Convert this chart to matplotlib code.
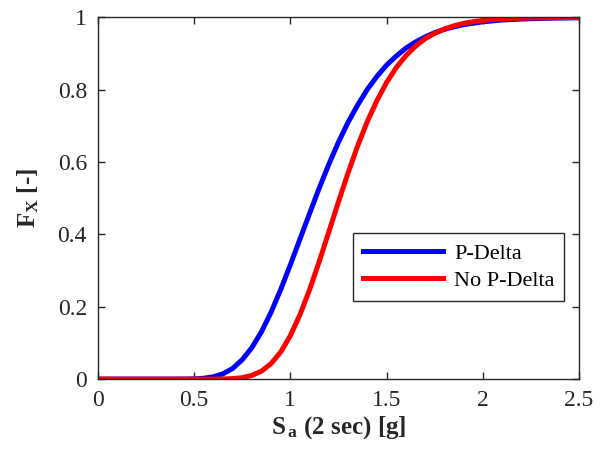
import matplotlib
matplotlib.use("Agg")
import matplotlib.pyplot as plt

plt.rcParams['font.family'] = ['Liberation Serif', 'DejaVu Serif']
plt.rcParams['mathtext.fontset'] = 'custom'
plt.rcParams['mathtext.rm'] = 'Liberation Serif'
plt.rcParams['mathtext.bf'] = 'Liberation Serif:bold'

# fragility curves: Sa (2 sec) vs probability of exceedance
sa = [0.0, 0.1, 0.2, 0.3, 0.4, 0.45, 0.5, 0.55, 0.6, 0.65, 0.7, 0.75, 0.8, 0.85,
      0.9, 0.95, 1.0, 1.05, 1.1, 1.15, 1.2, 1.25, 1.3, 1.35, 1.4, 1.45, 1.5,
      1.55, 1.6, 1.65, 1.7, 1.75, 1.8, 1.85, 1.9, 1.95, 2.0, 2.1, 2.2, 2.3,
      2.4, 2.5]
p_delta = [0.0, 0.0, 0.0, 0.0, 0.0, 0.0001, 0.0007, 0.0023, 0.0064, 0.0146,
           0.0294, 0.0537, 0.0869, 0.131, 0.185, 0.248, 0.316, 0.387, 0.458,
           0.528, 0.594, 0.655, 0.710, 0.758, 0.801, 0.837, 0.868, 0.893,
           0.915, 0.932, 0.946, 0.958, 0.967, 0.974, 0.980, 0.984, 0.988,
           0.993, 0.9956, 0.9974, 0.9985, 0.9991]
no_p_delta = [0.0, 0.0, 0.0, 0.0, 0.0, 0.0, 0.0, 0.0, 0.0001, 0.0003, 0.0013,
              0.0039, 0.0101, 0.022, 0.043, 0.075, 0.120, 0.178, 0.247, 0.325,
              0.407, 0.490, 0.570, 0.645, 0.712, 0.770, 0.820, 0.861, 0.894,
              0.920, 0.941, 0.956, 0.968, 0.977, 0.9836, 0.9883, 0.9917,
              0.9960, 0.9981, 0.9991, 0.9996, 0.9998]

fig = plt.figure(figsize=(6.03, 4.54), dpi=100)
ax = fig.add_axes([0.1625, 0.165, 0.7975, 0.7965])

ax.plot(sa, p_delta, color='#0000ff', lw=3.6, label='P-Delta')
ax.plot(sa, no_p_delta, color='#ff0000', lw=3.6, label='No P-Delta')

ax.set_xlim(0, 2.5)
ax.set_ylim(0, 1)
ax.set_xticks([0, 0.5, 1, 1.5, 2, 2.5])
ax.set_xticklabels(['0', '0.5', '1', '1.5', '2', '2.5'])
ax.set_yticks([0, 0.2, 0.4, 0.6, 0.8, 1])
ax.set_yticklabels(['0', '0.2', '0.4', '0.6', '0.8', '1'])
ax.tick_params(direction='in', top=True, right=True, length=5, width=1,
               labelsize=17, colors='#262626', pad=8)
for s in ax.spines.values():
    s.set_color('#262626')
    s.set_linewidth(1)

ax.set_xlabel(r'$\mathbf{S_{\,a}}$ (2 sec) [g]', fontsize=18, fontweight='bold',
              color='#262626', labelpad=2)
ax.set_ylabel(r'$\mathbf{F_X}$ [-]', fontsize=18, fontweight='bold',
              color='#262626', labelpad=12)

leg = ax.legend(loc='upper left', bbox_to_anchor=(0.53, 0.404), fontsize=16,
                frameon=True, fancybox=False, edgecolor='#262626',
                framealpha=1, handlelength=3.6, handletextpad=0.5,
                borderaxespad=0, borderpad=0.45, labelspacing=0.3)
leg.get_frame().set_linewidth(1)

fig.savefig('out.png', dpi=100)
